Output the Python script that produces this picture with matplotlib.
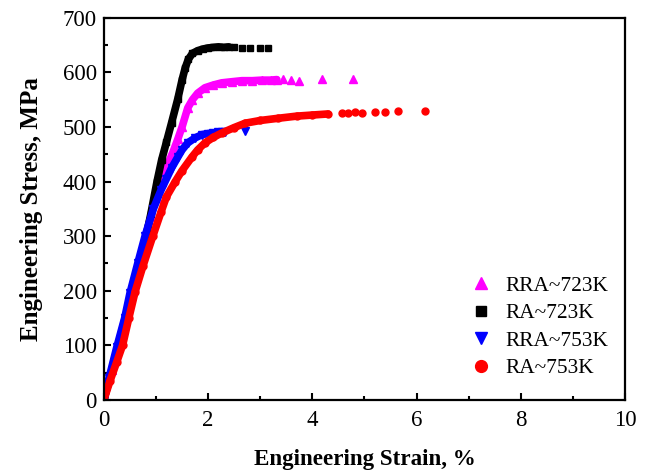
from matplotlib import pyplot as plt

plt.rcParams['font.family'] = ['Liberation Serif', 'DejaVu Serif']

# RRA~723K (magenta triangles)
rra723_strain = [0, 0.15, 0.3, 0.45, 0.6, 0.75, 0.9, 1.0, 1.11, 1.22, 1.33, 1.42, 1.5, 1.61, 1.7, 1.8,
                 1.94, 2.1, 2.26, 2.45, 2.65, 2.85, 3.03, 3.2, 3.32, 3.44, 3.6, 3.74, 4.18, 4.78]
rra723_stress = [0, 55, 110, 165, 220, 280, 335, 370, 400, 430, 455, 478, 500, 535, 550, 562,
                 572, 577, 581, 583, 585, 585, 586, 586, 587, 588, 586, 585, 588, 588]

# RA~723K (black squares)
ra723_strain = [0, 0.15, 0.3, 0.45, 0.6, 0.75, 0.9, 1.02, 1.11, 1.2, 1.3, 1.42, 1.5, 1.56, 1.62, 1.7,
                1.8, 1.9, 2.0, 2.1, 2.2, 2.3, 2.4, 2.5, 2.65, 2.8, 3.0, 3.15]
ra723_stress = [0, 52, 102, 155, 210, 272, 340, 400, 440, 472, 508, 552, 586, 608, 624, 635,
                640, 643, 645, 646, 647, 646, 647, 646, 645, 645, 644, 644]

# RRA~753K (blue down triangles)
rra753_strain = [0, 0.1, 0.25, 0.4, 0.5, 0.65, 0.79, 0.95, 1.1, 1.2, 1.3, 1.42, 1.5, 1.61, 1.75,
                 1.88, 2.0, 2.1, 2.19, 2.26, 2.32, 2.71]
rra753_stress = [0, 40, 97, 150, 195, 250, 300, 350, 385, 405, 425, 445, 458, 471, 480,
                 486, 488, 489, 490, 491, 490, 493]

# RA~753K (red circles)
ra753_strain = [0, 0.12, 0.25, 0.36, 0.48, 0.6, 0.75, 0.94, 1.1, 1.2, 1.37, 1.5, 1.69, 1.8, 1.94,
                2.1, 2.26, 2.5, 2.71, 3.0, 3.34, 3.7, 4.0, 4.3, 4.57, 4.68, 4.82, 4.95, 5.2, 5.39,
                5.64, 6.16]
ra753_stress = [0, 35, 70, 100, 150, 198, 245, 300, 345, 372, 400, 420, 445, 458, 471,
                481, 489, 499, 507, 512, 516, 520, 522, 524, 526, 525, 527, 526, 528, 528,
                530, 530]

# number of points in the continuous (dense) part of each curve
n_dense = {'RRA~723K': 25, 'RA~723K': 23, 'RRA~753K': 19, 'RA~753K': 24}

series = [
    ('RRA~723K', rra723_strain, rra723_stress, '#FF00FF', '^', 5.5),
    ('RA~723K', ra723_strain, ra723_stress, 'black', 's', 4.2),
    ('RRA~753K', rra753_strain, rra753_stress, '#0000FF', 'v', 5.5),
    ('RA~753K', ra753_strain, ra753_stress, '#FF0000', 'o', 5.0),
]

fig = plt.figure(figsize=(6.45, 4.72), dpi=100)
ax = fig.add_axes([0.161, 0.153, 0.808, 0.809])

for name, x, y, c, m, ms in series:
    n = n_dense[name]
    ax.plot(x[:n], y[:n], '-', color=c, lw=5.5, solid_capstyle='round')
    ax.plot(x, y, linestyle='none', marker=m, ms=ms, color=c, label=name)

ax.set_xlim(0, 10)
ax.set_ylim(0, 700)
ax.set_xticks(range(0, 11, 2))
ax.set_xticks(range(0, 11, 1), minor=True)
ax.set_yticks(range(0, 701, 100))
ax.set_yticks(range(0, 701, 50), minor=True)
ax.tick_params(which='both', direction='in', width=1.5, labelsize=16.5)
ax.tick_params(axis='x', pad=7)
ax.tick_params(axis='y', pad=5)
ax.tick_params(which='major', length=5)
ax.tick_params(which='minor', length=3)
for s in ax.spines.values():
    s.set_linewidth(1.6)

ax.set_xlabel('Engineering Strain, %', fontsize=16.6, fontweight='bold', labelpad=13)
ax.set_ylabel('Engineering Stress, MPa', fontsize=18, fontweight='bold', labelpad=14)

ax.legend(loc='lower left', bbox_to_anchor=(0.663, 0.006), frameon=False, fontsize=15.4,
          markerscale=1.7, handletextpad=0.5, labelspacing=0.35, handlelength=1.2)

fig.savefig('out.png', dpi=100)
